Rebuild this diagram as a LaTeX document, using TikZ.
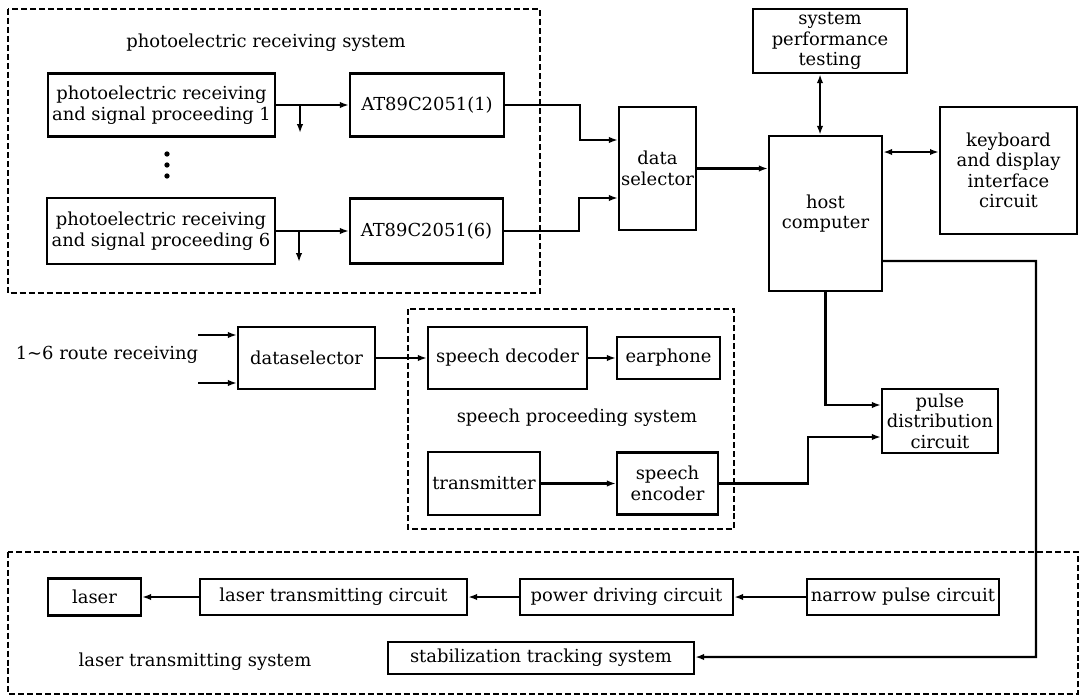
\documentclass[tikz,border=0pt]{standalone}
\usepackage{fontspec}
\setmainfont{DejaVu Serif}
\usetikzlibrary{positioning,arrows.meta}

\begin{document}
\begin{tikzpicture}[x=0.02cm,y=-0.02cm,
 font=\fontsize{10.2}{11.6}\selectfont,
 sz/.style 2 args={minimum width=#1*0.02cm,minimum height=#2*0.02cm},
 blk/.style={draw,line width=1.4pt,align=center,inner sep=1pt},
 grp/.style={draw,line width=1.3pt,dash pattern=on 3.4pt off 1.7pt},
 lnk/.style={line width=1.2pt,-{Latex[length=5pt,width=3.6pt]}},
 dlnk/.style={line width=1.2pt,{Latex[length=5pt,width=3.6pt]}-{Latex[length=5pt,width=3.6pt]}}]
\useasboundingbox (0,0) rectangle (1081,696);
\draw[grp] (8,9) rectangle (540,293);
\draw[grp] (408,309) rectangle (734,529);
\draw[grp] (8,552) rectangle (1078,694);
\node (psys) at (266,43) {photoelectric receiving system};
\node[blk,sz={227}{63}] (p1) at (161.5,105) {photoelectric receiving\\and signal proceeding 1};
\node[blk,sz={154}{63}] (a1) at (427,105) {AT89C2051(1)};
\node[blk,sz={228}{66}] (p6) at (161,231) {photoelectric receiving\\and signal proceeding 6};
\node[blk,sz={153}{65}] (a6) at (426.5,231) {AT89C2051(6)};
\foreach \y in {154,165,176} \fill (167,\y) circle (1.5pt);
\foreach \s/\y/\x/\d in {1/105/300/28,6/231/299/31} {
  \draw[lnk] (p\s.east) -- (a\s.west);
  \coordinate (j\s) at (\x,\y);
  \coordinate (k\s) at (\x,\y+\d);
  \draw[lnk] (j\s) -- (k\s);
}
\node[blk,sz={77}{123}] (dsel) at (657.5,168.5) {data\\selector};
\node[blk,sz={113}{155}] (host) at (825.5,213.5) {host\\computer};
\node[blk,sz={154}{64}] (perf) at (830,41) {system\\performance\\testing};
\node[blk,sz={137}{127}] (kbd) at (1008.5,170.5) {keyboard\\and display\\interface\\circuit};
\node[blk,sz={116}{64}] (pulse) at (940,421) {pulse\\distribution\\circuit};
\draw[lnk] (a1.east) -- ++(75,0) |- ([yshift=0.57cm]dsel.west);
\draw[lnk] (a6.east) -- ++(75,0) |- ([yshift=-0.59cm]dsel.west);
\draw[lnk] (dsel.east) -- (dsel.east -| host.west);
\draw[dlnk] ([xshift=-0.2cm]perf.south) -- ([xshift=-0.2cm]perf.south |- host.north);
\draw[dlnk] ([yshift=1.23cm]host.east) -- ([yshift=1.23cm]host.east -| kbd.west);
\node (route) at (107,355) {1\textasciitilde6 route receiving};
\node[blk,sz={137}{62}] (dsel2) at (306.5,358) {dataselector};
\coordinate (in1) at (198,335);
\coordinate (in2) at (198,383);
\foreach \c in {in1,in2} \draw[lnk] (\c) -- (\c -| dsel2.west);
\node[blk,sz={159}{62}] (dec) at (507.5,358) {speech decoder};
\node[blk,sz={103}{42}] (ear) at (668.5,358) {earphone};
\draw[lnk] (dsel2) -- (dec);
\draw[lnk] (dec) -- (ear);
\node (spsys) at (577,418) {speech proceeding system};
\node[blk,sz={112}{63}] (tx) at (484,483.5) {transmitter};
\node[blk,sz={101}{62}] (enc) at (667.5,483.5) {speech\\encoder};
\draw[lnk] (tx) -- (enc);
\draw[lnk] (enc.east) -- ++(89,0) |- ([yshift=-0.32cm]pulse.west);
\draw[lnk] (host.south) |- ([yshift=0.32cm]pulse.west);
\node[blk,sz={93}{37}] (laser) at (94.5,597) {laser};
\node[blk,sz={267}{36}] (ltc) at (333.5,597) {laser transmitting circuit};
\node[blk,sz={213}{36}] (pwr) at (626.5,597) {power driving circuit};
\node[blk,sz={192}{36}] (nar) at (903,597) {narrow pulse circuit};
\foreach \a/\b in {nar/pwr,pwr/ltc,ltc/laser} \draw[lnk] (\a) -- (\b);
\node[blk,sz={306}{32}] (stab) at (541,658) {stabilization tracking system};
\node (lsys) at (195,662) {laser transmitting system};
\coordinate (r1) at (1036,261);
\coordinate (r2) at (1036,657);
\draw[lnk] ([yshift=-0.95cm]host.east) -- (r1) -- (r2) -- (r2 -| stab.east);
\end{tikzpicture}
\end{document}
